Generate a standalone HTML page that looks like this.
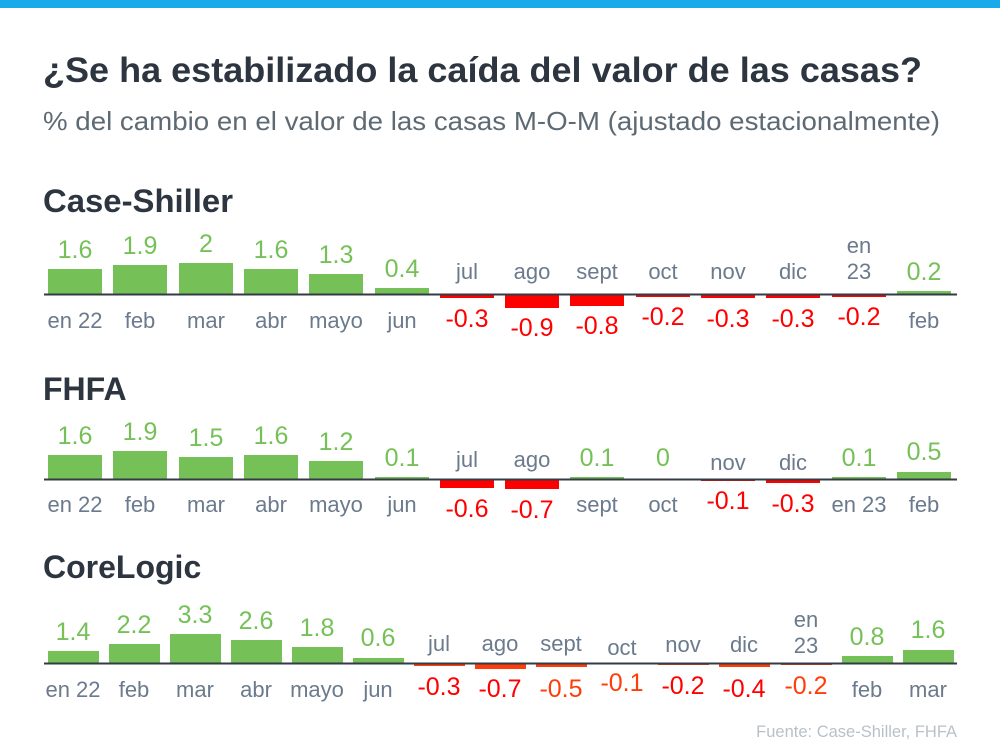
<!DOCTYPE html>
<html><head><meta charset="utf-8"><style>
body{margin:0;background:#fff;}
svg{display:block;font-family:"Liberation Sans",Arial,sans-serif;}
.g{fill:#75c158}.r{fill:#ff0000}.o{fill:#ff3d0a}
.v{font-size:25px;text-anchor:middle}
.m{font-size:22px;text-anchor:middle;fill:#6b7a8c}
.h{font-size:32px;font-weight:bold;fill:#2d3640}
</style></head><body>
<svg width="1000" height="750" viewBox="0 0 1000 750">
<rect x="0" y="0" width="1000" height="8" fill="#1aa9ea"/>
<text x="43" y="82" font-size="35" font-weight="bold" fill="#2d3640" textLength="879" lengthAdjust="spacingAndGlyphs">¿Se ha estabilizado la caída del valor de las casas?</text>
<text x="43" y="130" font-size="26" fill="#5e6a73" textLength="897" lengthAdjust="spacingAndGlyphs">% del cambio en el valor de las casas M-O-M (ajustado estacionalmente)</text>

<!-- Case-Shiller -->
<text class="h" x="43" y="212" textLength="190" lengthAdjust="spacingAndGlyphs">Case-Shiller</text>
<g class="g">
<rect x="48" y="269" width="54" height="25"/><rect x="113" y="265" width="54" height="29"/><rect x="179" y="263" width="54" height="31"/><rect x="244" y="269" width="54" height="25"/><rect x="309" y="274" width="54" height="20"/><rect x="375" y="288" width="54" height="6"/><rect x="897" y="291" width="54" height="3"/>
</g>
<g class="r">
<rect x="440" y="294" width="54" height="4"/><rect x="505" y="294" width="54" height="14"/><rect x="570" y="294" width="54" height="12"/><rect x="636" y="294" width="54" height="3"/><rect x="701" y="294" width="54" height="4"/><rect x="766" y="294" width="54" height="4"/><rect x="832" y="294" width="54" height="3"/>
</g>
<line x1="44" y1="294.5" x2="957" y2="294.5" stroke="#333b44" stroke-width="2"/>
<g class="v g">
<text x="75" y="258">1.6</text><text x="140" y="254">1.9</text><text x="206" y="252">2</text><text x="271" y="258">1.6</text><text x="336" y="263">1.3</text><text x="402" y="277">0.4</text><text x="924" y="280">0.2</text>
</g>
<g class="v r">
<text x="467" y="327">-0.3</text><text x="532" y="336">-0.9</text><text x="597" y="334">-0.8</text><text x="663" y="325">-0.2</text><text x="728" y="327">-0.3</text><text x="793" y="327">-0.3</text><text x="859" y="325">-0.2</text>
</g>
<g class="m">
<text x="75" y="328">en 22</text><text x="140" y="328">feb</text><text x="206" y="328">mar</text><text x="271" y="328">abr</text><text x="336" y="328">mayo</text><text x="402" y="328">jun</text><text x="924" y="328">feb</text>
<text x="467" y="279">jul</text><text x="532" y="279">ago</text><text x="597" y="279">sept</text><text x="663" y="279">oct</text><text x="728" y="279">nov</text><text x="793" y="279">dic</text><text x="859" y="253">en</text><text x="859" y="279">23</text>
</g>

<!-- FHFA -->
<text class="h" x="43" y="400">FHFA</text>
<g class="g">
<rect x="48" y="455" width="54" height="24"/><rect x="113" y="451" width="54" height="28"/><rect x="179" y="457" width="54" height="22"/><rect x="244" y="455" width="54" height="24"/><rect x="309" y="461" width="54" height="18"/><rect x="375" y="477" width="54" height="2"/><rect x="570" y="477" width="54" height="2"/><rect x="832" y="477" width="54" height="2"/><rect x="897" y="472" width="54" height="7"/>
</g>
<g class="r">
<rect x="440" y="479" width="54" height="9"/><rect x="505" y="479" width="54" height="10"/><rect x="701" y="479" width="54" height="2"/><rect x="766" y="479" width="54" height="4"/>
</g>
<line x1="44" y1="479.5" x2="957" y2="479.5" stroke="#333b44" stroke-width="2"/>
<g class="v g">
<text x="75" y="444">1.6</text><text x="140" y="440">1.9</text><text x="206" y="446">1.5</text><text x="271" y="444">1.6</text><text x="336" y="450">1.2</text><text x="402" y="466">0.1</text><text x="597" y="466">0.1</text><text x="663" y="466">0</text><text x="859" y="466">0.1</text><text x="924" y="460">0.5</text>
</g>
<g class="v r">
<text x="467" y="517">-0.6</text><text x="532" y="518">-0.7</text><text x="728" y="509">-0.1</text><text x="793" y="512">-0.3</text>
</g>
<g class="m">
<text x="75" y="512">en 22</text><text x="140" y="512">feb</text><text x="206" y="512">mar</text><text x="271" y="512">abr</text><text x="336" y="512">mayo</text><text x="402" y="512">jun</text><text x="597" y="512">sept</text><text x="663" y="512">oct</text><text x="859" y="512">en 23</text><text x="924" y="512">feb</text>
<text x="467" y="467">jul</text><text x="532" y="467">ago</text><text x="728" y="470">nov</text><text x="793" y="470">dic</text>
</g>

<!-- CoreLogic -->
<text class="h" x="43" y="578">CoreLogic</text>
<g class="g">
<rect x="48" y="651" width="51" height="12"/><rect x="109" y="644" width="51" height="19"/><rect x="170" y="634" width="51" height="29"/><rect x="231" y="640" width="51" height="23"/><rect x="292" y="647" width="51" height="16"/><rect x="353" y="658" width="51" height="5"/><rect x="842" y="656" width="51" height="7"/><rect x="903" y="650" width="51" height="13"/>
</g>
<g class="o">
<rect x="414" y="663" width="51" height="3"/><rect x="475" y="663" width="51" height="6"/><rect x="536" y="663" width="51" height="4"/><rect x="597" y="663" width="51" height="1"/><rect x="658" y="663" width="51" height="2"/><rect x="719" y="663" width="51" height="4"/><rect x="781" y="663" width="51" height="2"/>
</g>
<line x1="44" y1="663.5" x2="957" y2="663.5" stroke="#333b44" stroke-width="2"/>
<g class="v g">
<text x="73" y="640">1.4</text><text x="134" y="633">2.2</text><text x="195" y="623">3.3</text><text x="256" y="629">2.6</text><text x="317" y="636">1.8</text><text x="378" y="646">0.6</text><text x="867" y="645">0.8</text><text x="928" y="638">1.6</text>
</g>
<g class="v">
<text x="439" y="695" fill="#f00">-0.3</text><text x="500" y="697" fill="#f00">-0.7</text><text x="561" y="697" fill="#ff3d0a">-0.5</text><text x="622" y="691" fill="#ff3d0a">-0.1</text><text x="683" y="694" fill="#f00">-0.2</text><text x="744" y="697" fill="#f00">-0.4</text><text x="806" y="694" fill="#ff3d0a">-0.2</text>
</g>
<g class="m">
<text x="73" y="697">en 22</text><text x="134" y="697">feb</text><text x="195" y="697">mar</text><text x="256" y="697">abr</text><text x="317" y="697">mayo</text><text x="378" y="697">jun</text><text x="867" y="697">feb</text><text x="928" y="697">mar</text>
<text x="439" y="651">jul</text><text x="500" y="651">ago</text><text x="561" y="651">sept</text><text x="622" y="655">oct</text><text x="683" y="652">nov</text><text x="744" y="652">dic</text><text x="806" y="627">en</text><text x="806" y="653">23</text>
</g>
<text x="957" y="737" font-size="16.5" fill="#b9c1c8" text-anchor="end">Fuente: Case-Shiller, FHFA</text>
</svg>
</body></html>
